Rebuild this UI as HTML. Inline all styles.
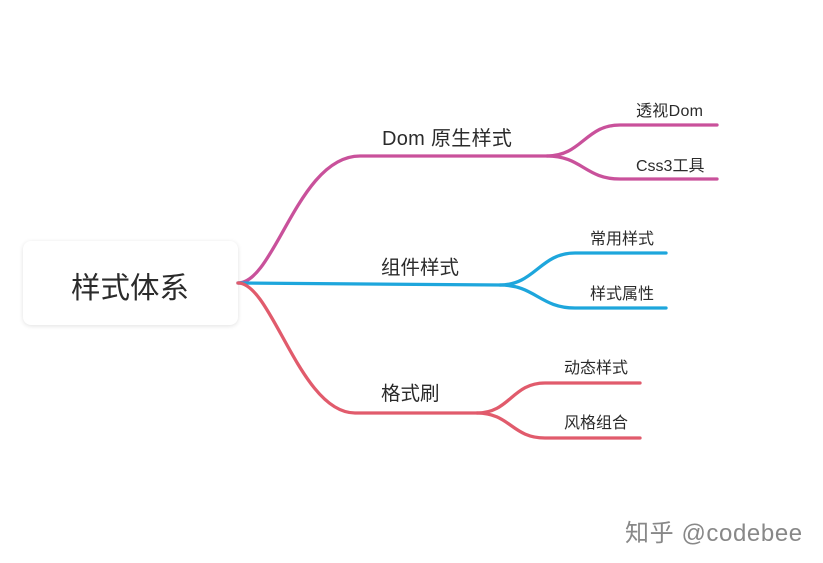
<!DOCTYPE html>
<html><head><meta charset="utf-8"><style>
html,body{margin:0;padding:0;background:#fff;}
body{width:823px;height:563px;overflow:hidden;position:relative;}
.box{position:absolute;left:23px;top:241px;width:215px;height:84px;border-radius:8px;background:#fff;box-shadow:0 1px 5px rgba(0,0,0,0.12);}
svg{position:absolute;left:0;top:0;}
text{font-family:"Liberation Sans","Noto Sans CJK SC",sans-serif;fill:#2b2b2b;}
</style></head><body>
<div class="box"></div>
<svg width="823" height="563" viewBox="0 0 823 563">
<g fill="none" stroke-width="3.3" stroke-linecap="round">
<g stroke="#c9519b">
<path d="M238,283 C275,283 298,156 360,156 L547,156"/>
<path d="M547,156 C582,156 585,125 620,125 L717,125"/>
<path d="M547,156 C582,156 585,179 620,179 L717,179"/>
</g>
<g stroke="#1ea6dc">
<path d="M238,283 L500,285"/>
<path d="M500,285 C535,285 540,253 575,253 L666,253"/>
<path d="M500,285 C535,285 540,308 575,308 L666,308"/>
</g>
<g stroke="#e15b6c">
<path d="M238,283 C272,283 300,413 355,413 L477,413"/>
<path d="M477,413 C510,413 512,383 545,383 L640,383"/>
<path d="M477,413 C510,413 512,438 545,438 L640,438"/>
</g>
</g>
<text x="71" y="298" font-size="29.5">样式体系</text>
<text x="382" y="145" font-size="20" letter-spacing="0.3">Dom 原生样式</text>
<text x="381" y="274" font-size="19.5">组件样式</text>
<text x="381" y="400" font-size="19.5">格式刷</text>
<text x="636" y="116" font-size="16" letter-spacing="0.3">透视Dom</text>
<text x="636" y="171" font-size="16">Css3工具</text>
<text x="590" y="244" font-size="16">常用样式</text>
<text x="590" y="299" font-size="16">样式属性</text>
<text x="564" y="373" font-size="16">动态样式</text>
<text x="564" y="428" font-size="16">风格组合</text>
<text x="625" y="541" font-size="24" letter-spacing="0.6" style="fill:#888">知乎 @codebee</text>
</svg>
</body></html>
